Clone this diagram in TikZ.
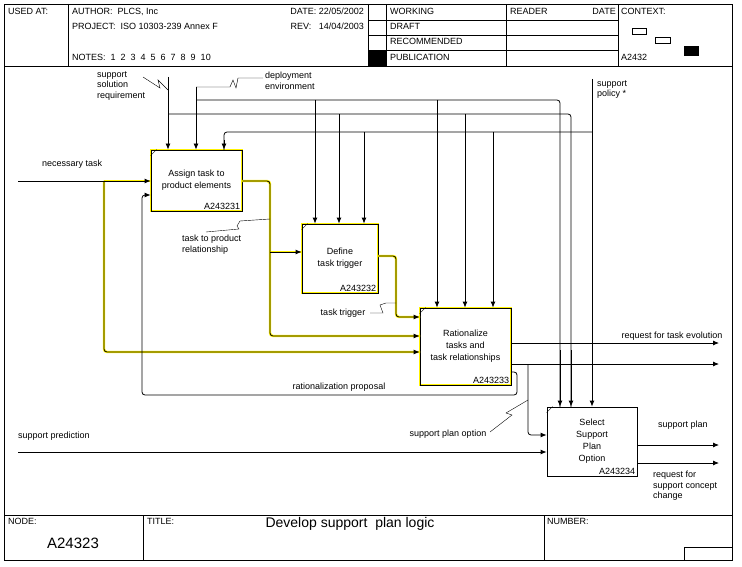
\documentclass[tikz,border=0pt]{standalone}
\usepackage{fontspec}
\setmainfont{Liberation Sans}
\usetikzlibrary{arrows.meta,positioning}
\tikzset{
  txt/.style={font=\fontsize{9}{10.5}\selectfont, inner sep=0pt, align=left},
  fn/.style={txt, anchor=north west},
  act/.style={draw, line width=0.8pt, minimum width=#1, inner sep=0pt, align=center, font=\fontsize{9}{12}\selectfont},
  hl/.style={draw=yellow, line width=2.4pt},
  flow/.style={line width=0.8pt, rounded corners=3pt},
  arr/.style={flow, -{Latex[length=6pt,width=5pt]}},
  num/.style={txt, anchor=south east, inner sep=2pt}
}
\begin{document}
\begin{tikzpicture}[x=1pt, y=-1pt]
\useasboundingbox (0,0) rectangle (742,567);
% frame and header
\draw[line width=0.8pt] (4,4) rectangle (732,560);
\draw[line width=0.8pt] (4,66) -- (732,66) (4,515) -- (732,515);
\draw (68,4) -- (68,66) (368,4) -- (368,66) (386,4) -- (386,66) (506,4) -- (506,66) (618,4) -- (618,66);
\draw (368,20) -- (618,20) (368,35) -- (618,35) (368,50) -- (618,50);
\fill (368,50) rectangle (386,66);
\draw (632,28) rectangle (646,34) (655,37) rectangle (670,43);
\fill (684,46) rectangle (699,56);
\node[fn] (usedat) at (8,8) {USED AT:};
\node[fn] (author) at (72,8) {AUTHOR:\ \ PLCS, Inc};
\node[fn] (project) at (72,23) {PROJECT:\ \ ISO 10303-239 Annex F};
\node[fn] (notes) at (72,54) {NOTES:\ \ 1\ \ 2\ \ 3\ \ 4\ \ 5\ \ 6\ \ 7\ \ 8\ \ 9\ \ 10};
\node[txt, anchor=north east] (date) at (364,8) {DATE:\ 22/05/2002};
\node[txt, anchor=north east] (rev) at (364,23) {REV:\ \ \ 14/04/2003};
\node[fn] (working) at (390,8) {WORKING};
\node[fn] (draft) at (390,23) {DRAFT};
\node[fn] (recomm) at (390,38) {RECOMMENDED};
\node[fn] (public) at (390,54) {PUBLICATION};
\node[fn] (reader) at (510,8) {READER};
\node[txt, anchor=north east] (rdate) at (616,8) {DATE};
\node[fn] (context) at (621,8) {CONTEXT:};
\node[fn] (ctxnum) at (621,54) {A2432};
% footer
\draw (143,515) -- (143,560) (544,515) -- (544,560);
\draw (684,547) -- (684,560) -- (732,560) -- (732,547) -- cycle;
\node[fn] (nodelbl) at (8,518) {NODE:};
\node[txt, font=\fontsize{15}{16}\selectfont] (nodenum) at (73,543) {A24323};
\node[fn] (titlelbl) at (147,518) {TITLE:};
\node[txt, font=\fontsize{14}{16}\selectfont] (title) at (350,524) {Develop support\ \ plan logic};
\node[fn] (numlbl) at (547,518) {NUMBER:};
% activities
\draw[hl] (151,150) rectangle (242,211) (302,224) rectangle (378,293) (420,308) rectangle (511,385);
\node[act=91pt, minimum height=61pt] (assign) at (196.5,180.5) {Assign task to\\product elements};
\node[act=76pt, minimum height=69pt] (define) at (340,258.5) {Define\\task trigger};
\node[act=91pt, minimum height=77pt] (ration) at (465.5,346.5) {Rationalize\\tasks and\\task relationships};
\node[act=90pt, minimum height=69pt] (select) at (592,441.5) {Select\\Support\\Plan\\Option};
\node[num] at (assign.south east) {A243231};
\node[num] at (define.south east) {A243232};
\node[num] at (ration.south east) {A243233};
\node[num] at (select.south east) {A243234};
\foreach \b in {assign,define,ration,select}
  \draw ([yshift=-6pt]\b.north west) -- ([xshift=6pt]\b.north west);
% coordinates
\coordinate (ntask) at (18,181);
\coordinate (spred) at (18,452);
\coordinate (ssr) at (168,77);
\coordinate (denv) at (196,87);
\coordinate (spol) at (592,79);
\coordinate (rqte) at (719,343);
\coordinate (rout) at (719,364);
\coordinate (splan) at (719,445);
\coordinate (rqsc) at (719,463);
% yellow highlighted flows
\draw[hl] (104,181) -- (151,181);
\draw[hl, rounded corners=3pt] (104,181) -- (104,352) -- (420,352);
\draw[hl, rounded corners=3pt] (242,181) -- (270,181) -- (270,336) -- (420,336);
\draw[hl] (270,252) -- (302,252);
\draw[hl, rounded corners=3pt] (378,256) -- (396,256) -- (396,317) -- (420,317);
% inputs
\draw[arr] (ntask) -- (assign.west |- ntask);
\draw[arr] (104,181) -- (104,352) -- (ration.west |- 0,352);
\draw[arr] (assign.east |- 0,181) -- (270,181) -- (270,336) -- (ration.west |- 0,336);
\draw[arr] (270,252) -- (define.west |- 0,252);
\draw[arr] (define.east |- 0,256) -- (396,256) -- (396,317) -- (ration.west |- 0,317);
\draw[arr] (spred) -- (select.west |- spred);
\draw[arr] (528,364) -- (528,435) -- (select.west |- 0,435);
% controls
\draw[arr] (ssr) -- (assign.north -| ssr);
\draw[arr] (denv) -- (assign.north -| denv);
\draw[flow] (196,100) -- (560,100) -- (560,407);
\draw[flow] (168,114) -- (571,114) -- (571,407);
\draw[flow] (224,150) -- (224,132) -- (592,132);
\draw[arr] (224,140) -- (assign.north -| 224,0);
\draw[arr] (560,350) -- (select.north -| 560,0);
\draw[arr] (571,350) -- (select.north -| 571,0);
\draw[arr] (spol) -- (select.north -| spol);
\draw[arr] (315,100) -- (define.north -| 315,0);
\draw[arr] (339,114) -- (define.north -| 339,0);
\draw[arr] (364,132) -- (define.north -| 364,0);
\draw[arr] (437,100) -- (ration.north -| 437,0);
\draw[arr] (465,114) -- (ration.north -| 465,0);
\draw[arr] (493,132) -- (ration.north -| 493,0);
% outputs
\draw[arr] (ration.east |- 0,343) -- (rqte);
\draw[arr] (ration.east |- 0,364) -- (rout);
\draw[arr] (select.east |- 0,445) -- (splan);
\draw[arr] (select.east |- 0,463) -- (rqsc);
% feedback
\draw[arr] (ration.east |- 0,372) -- (517,372) -- (517,395) -- (142,395) -- (142,195) -- (assign.west |- 0,195);
% squiggles
\draw (143,77) -- (160,88) -- (158,80) -- (168,90);
\draw (196,87) -- (230,87) -- (233,80) -- (236,88) -- (238,78) -- (263,78);
\draw (270,219) -- (240,221) -- (237,226) -- (239,229) -- (206,232);
\draw (370,313) -- (383,313) -- (380,305) -- (386,303) -- (396,303);
\draw (490,432) -- (512,415) -- (506,413) -- (528,400);
% labels
\node[fn] (lssr) at (97,71) {support\\solution\\requirement};
\node[fn] (ldenv) at (265,72) {deployment\\environment};
\node[fn] (lspol) at (597,80) {support\\policy *};
\node[fn] (lntask) at (42,160) {necessary task};
\node[fn] (ltpr) at (182,235) {task to product\\relationship};
\node[txt] (lttrig) at (343,313) {task trigger};
\node[txt] (lrqte) at (672,336) {request for task evolution};
\node[txt] (lrprop) at (339,387) {rationalization proposal};
\node[txt] (lspo) at (448,434) {support plan option};
\node[fn] (lspred) at (18,432) {support prediction};
\node[fn] (lsplan) at (658,421) {support plan};
\node[fn] (lrqsc) at (653,471) {request for\\support concept\\change};
\end{tikzpicture}
\end{document}
